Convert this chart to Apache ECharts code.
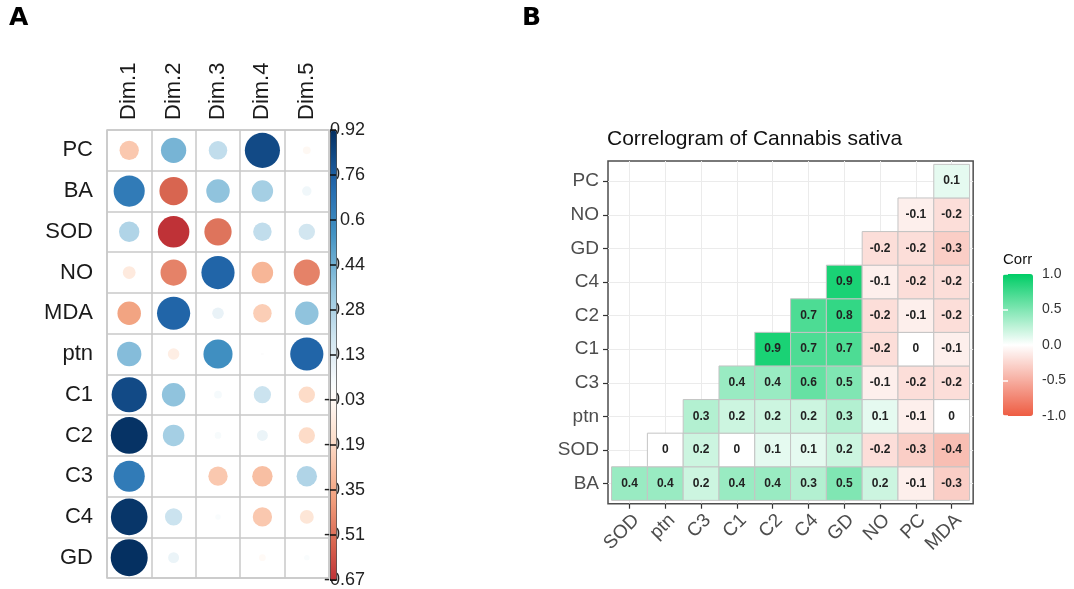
<!DOCTYPE html>
<html><head><meta charset="utf-8">
<script src="https://cdn.jsdelivr.net/npm/echarts@6/dist/echarts.min.js"></script>
<style>html,body{margin:0;padding:0;background:#fff}#c{width:1074px;height:589px}</style>
</head><body><div id="c"></div>
<script>
// ---------- Panel A data (PCA dimension correlations) ----------
const dimsA = ['Dim.1','Dim.2','Dim.3','Dim.4','Dim.5'];
const rowsA = ['PC','BA','SOD','NO','MDA','ptn','C1','C2','C3','C4','GD'];
const valPC  = [-0.25, 0.43, 0.23, 0.83, -0.04];
const valBA  = [0.65, -0.54, 0.37, 0.31, 0.06];
const valSOD = [0.28, -0.67, -0.50, 0.23, 0.18];
const valNO  = [-0.11, -0.46, 0.74, -0.31, -0.46];
const valMDA = [-0.37, 0.74, 0.09, -0.23, 0.37];
const valPtn = [0.40, -0.09, 0.57, 0.005, 0.74];
const valC1  = [0.83, 0.37, 0.04, 0.20, -0.18];
const valC2  = [0.91, 0.31, 0.03, 0.08, -0.18];
const valC3  = [0.65, 0.00, -0.25, -0.28, 0.28];
const valC4  = [0.90, 0.20, 0.02, -0.25, -0.13];
const valGD  = [0.92, 0.08, 0.00, -0.03, 0.02];
const colorbarTicksA = ['-0.67','-0.51','-0.35','-0.19','-0.03','0.13','0.28','0.44','0.6','0.76','0.92'];
const limA = [-0.67, 0.92];

// ---------- Panel B data (correlogram) ----------
const xB = ['SOD','ptn','C3','C1','C2','C4','GD','NO','PC','MDA'];
const yB = ['BA','SOD','ptn','C3','C1','C2','C4','GD','NO','PC'];
const corrBA  = [0.4, 0.4, 0.2, 0.4, 0.4, 0.3, 0.5, 0.2, -0.1, -0.3];
const corrSOD = [0, 0.2, 0, 0.1, 0.1, 0.2, -0.2, -0.3, -0.4];
const corrPtn = [0.3, 0.2, 0.2, 0.2, 0.3, 0.1, -0.1, 0];
const corrC3  = [0.4, 0.4, 0.6, 0.5, -0.1, -0.2, -0.2];
const corrC1  = [0.9, 0.7, 0.7, -0.2, 0, -0.1];
const corrC2  = [0.7, 0.8, -0.2, -0.1, -0.2];
const corrC4  = [0.9, -0.1, -0.2, -0.2];
const corrGD  = [-0.2, -0.2, -0.3];
const corrNO  = [-0.1, -0.2];
const corrPC  = [0.1];
const legendTicksB = ['-1.0','-0.5','0.0','0.5','1.0'];

// ---------- build data ----------
const matA = [valPC, valBA, valSOD, valNO, valMDA, valPtn, valC1, valC2, valC3, valC4, valGD];
const dataA = [];
matA.forEach((row, i) => row.forEach((v, j) => dataA.push([j, i, v])));

const matB = [corrBA, corrSOD, corrPtn, corrC3, corrC1, corrC2, corrC4, corrGD, corrNO, corrPC];
const dataB = [];
matB.forEach((row, r) => row.forEach((v, k) => dataB.push([r + k, r, v])));

// ---------- colour helpers ----------
const rdbu = ['#67001F','#B2182B','#D6604D','#F4A582','#FDDBC7','#FFFFFF','#D1E5F0','#92C5DE','#4393C3','#2166AC','#053061'];
function hex2rgb(h){return [1,3,5].map(i=>parseInt(h.substr(i,2),16));}
function rgb2hex(c){return '#'+c.map(x=>Math.round(x).toString(16).padStart(2,'0')).join('');}
function samplePal(pal, lo, hi, a, b, n){
  const out=[];
  for(let k=0;k<n;k++){
    const v=a+(b-a)*k/(n-1);
    let t=(v-lo)/(hi-lo)*(pal.length-1);
    t=Math.max(0,Math.min(pal.length-1,t));
    const i=Math.min(Math.floor(t),pal.length-2), f=t-i;
    const c0=hex2rgb(pal[i]), c1=hex2rgb(pal[i+1]);
    out.push(rgb2hex(c0.map((x,q)=>x+(c1[q]-x)*f)));
  }
  return out;
}
const colorsA = samplePal(rdbu, -0.92, 0.92, limA[0], limA[1], 40);

// ---------- layout ----------
const FONT = '"Liberation Sans", Arial, sans-serif';
const aL=107, aT=130, aW=222, aH=448;
const maxD = 37;
const bL=608, bT=161, cw=35.8, ch=33.6, ex=0.6, nB=xB.length;
const idxB = xB.map((_, i) => i);

const chart = echarts.init(document.getElementById('c'));
chart.setOption({
  animation:false,
  backgroundColor:'#fff',
  title:[
    {text:'A', left:9, top:6, padding:0, textStyle:{fontSize:25,fontWeight:'bold',fontFamily:'"DejaVu Sans", sans-serif',color:'#000'}},
    {text:'B', left:522, top:6, padding:0, textStyle:{fontSize:25,fontWeight:'bold',fontFamily:'"DejaVu Sans", sans-serif',color:'#000'}},
    {text:'Correlogram of Cannabis sativa', left:607, top:129, padding:0, textStyle:{fontSize:21,fontWeight:'normal',fontFamily:FONT,color:'#111'}},
    {text:'Corr', left:1003, top:252, padding:0, textStyle:{fontSize:15,fontWeight:'normal',fontFamily:FONT,color:'#111'}}
  ],
  grid:[
    {left:aL, top:aT, width:aW, height:aH, show:true, borderColor:'#C8C8C8', borderWidth:1.5},
    {left:bL, top:bT, width:cw*(nB-1+2*ex), height:ch*(nB-1+2*ex), show:true, borderColor:'#4D4D4D', borderWidth:1.5},
    {left:366, top:130, width:1, height:450},
    {left:1003, top:274, width:30, height:142},
    {left:336, top:130, width:1, height:450}
  ],
  xAxis:[
    {gridIndex:0, type:'category', data:dimsA, position:'top', boundaryGap:true,
     axisLine:{show:false}, axisTick:{show:false},
     axisLabel:{rotate:-90, fontSize:22, color:'#1a1a1a', fontFamily:FONT, margin:10, interval:0},
     splitLine:{show:true, interval:0, lineStyle:{color:'#C8C8C8', width:1.5}}},
    {gridIndex:1, type:'value', min:-ex, max:nB-1+ex,
     axisLine:{show:false, onZero:false},
     axisTick:{show:true, length:5, customValues:idxB, lineStyle:{color:'#333', width:1.2}},
     axisLabel:{customValues:idxB, formatter:v=>xB[Math.round(v)], rotate:45, align:'right', verticalAlign:'top',
                fontSize:19, color:'#4D4D4D', fontFamily:FONT, margin:7},
     splitLine:{show:true, lineStyle:{color:'#EBEBEB', width:1}}},
    {gridIndex:2, type:'value', show:false},
    {gridIndex:3, type:'value', show:false},
    {gridIndex:4, type:'value', show:false}
  ],
  yAxis:[
    {gridIndex:0, type:'category', data:rowsA, inverse:true, boundaryGap:true,
     axisLine:{show:false}, axisTick:{show:false},
     axisLabel:{fontSize:22, color:'#1a1a1a', fontFamily:FONT, margin:14, interval:0},
     splitLine:{show:true, interval:0, lineStyle:{color:'#C8C8C8', width:1.5}}},
    {gridIndex:1, type:'value', min:-ex, max:nB-1+ex,
     axisLine:{show:false, onZero:false},
     axisTick:{show:true, length:5, customValues:idxB, lineStyle:{color:'#333', width:1.2}},
     axisLabel:{customValues:idxB, formatter:v=>yB[Math.round(v)], fontSize:19, color:'#4D4D4D', fontFamily:FONT, margin:9},
     splitLine:{show:true, lineStyle:{color:'#EBEBEB', width:1}}},
    {gridIndex:2, type:'category', data:colorbarTicksA, boundaryGap:false, position:'left',
     axisLine:{show:false}, axisTick:{show:false},
     axisLabel:{fontSize:18, color:'#222', fontFamily:FONT, margin:1, interval:0},
     splitLine:{show:false}, z:3},
    {gridIndex:3, type:'category', data:legendTicksB, boundaryGap:false, position:'right',
     axisLine:{show:false}, axisTick:{show:true, inside:true, length:5, interval:0, lineStyle:{color:'#fff', width:1.5}},
     axisLabel:{fontSize:14, color:'#333', fontFamily:FONT, margin:9, interval:0}, splitLine:{show:false}, z:10},
    {gridIndex:3, type:'category', data:legendTicksB, boundaryGap:false, position:'left',
     axisLine:{show:false}, axisTick:{show:true, inside:true, length:5, interval:0, lineStyle:{color:'#fff', width:1.5}},
     axisLabel:{show:false}, splitLine:{show:false}, z:10},
    {gridIndex:4, type:'category', data:colorbarTicksA, boundaryGap:false, position:'left',
     axisLine:{show:false}, axisTick:{show:true, length:6, interval:0, lineStyle:{color:'#111', width:1.5}},
     axisLabel:{show:false}, splitLine:{show:false}, z:10}
  ],
  visualMap:[
    {type:'continuous', seriesIndex:0, dimension:2, min:limA[0], max:limA[1], calculable:false,
     inRange:{color:colorsA}, left:330, top:130, itemWidth:6, itemHeight:450, padding:0,
     borderColor:'#222', borderWidth:1, hoverLink:false},
    {type:'continuous', seriesIndex:1, dimension:2, min:-1, max:1, calculable:false,
     inRange:{color:['#EE5C42','#FFFFFF','#00CD66']}, left:1003, top:274, itemWidth:30, itemHeight:142, padding:0, hoverLink:false}
  ],
  series:[
    {type:'scatter', xAxisIndex:0, yAxisIndex:0, data:dataA, symbol:'circle',
     symbolSize:v=>maxD*Math.sqrt(Math.abs(v[2])/limA[1]), itemStyle:{opacity:1}, z:5},
    {type:'custom', xAxisIndex:1, yAxisIndex:1, data:dataB, clip:false, encode:{x:0, y:1},
     renderItem:function(params, api){
       const c = api.coord([api.value(0), api.value(1)]);
       const s = api.size([1,1]);
       const v = api.value(2);
       return {type:'group', children:[
         {type:'rect', shape:{x:c[0]-s[0]/2, y:c[1]-s[1]/2, width:s[0], height:s[1]},
          style:{fill:api.visual('color'), stroke:'#C4C4C4', lineWidth:1}},
         {type:'text', x:c[0], y:c[1], style:{text:(v===0?'0':String(v)), fill:'#222', fontSize:12,
          fontWeight:'bold', fontFamily:FONT, align:'center', verticalAlign:'middle'}}
       ]};
     }, z:5}
  ]
});
</script></body></html>
